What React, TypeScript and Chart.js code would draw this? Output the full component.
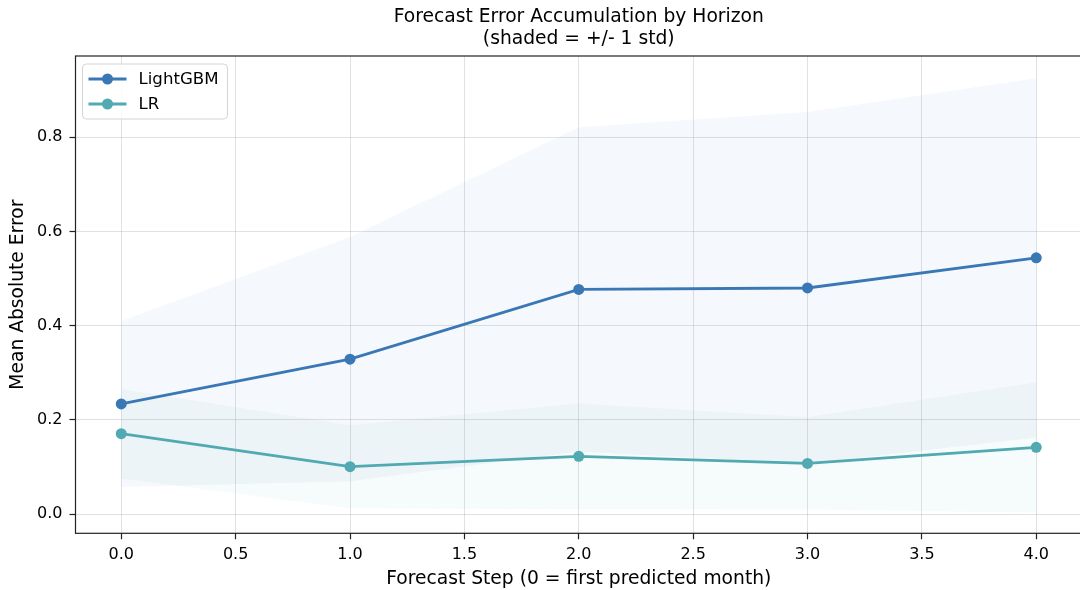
import React, { useEffect, useRef } from 'react';
import { Chart, registerables } from 'chart.js';

Chart.register(...registerables);

// ---- data ----
const steps = [0, 1, 2, 3, 4];
const lgbmMean = [0.234, 0.329, 0.477, 0.48, 0.544];
const lgbmStd = [0.176, 0.259, 0.344, 0.373, 0.381];
const lrMean = [0.171, 0.101, 0.123, 0.108, 0.142];
const lrStd = [0.095, 0.088, 0.112, 0.098, 0.138];
const seriesNames = ['LightGBM', 'LR'];
const xTicks = [0, 0.5, 1, 1.5, 2, 2.5, 3, 3.5, 4];
const yTicks = [0, 0.2, 0.4, 0.6, 0.8];
const titleLines = ['Forecast Error Accumulation by Horizon', '(shaded = +/- 1 std)'];
const xLabel = 'Forecast Step (0 = first predicted month)';
const yLabel = 'Mean Absolute Error';

const LGBM_COLOR = '#3a78b5';
const LR_COLOR = '#51a9b1';
const FONT = "'DejaVu Sans', sans-serif";

const pts = (ys: number[]) => steps.map((x, i) => ({ x, y: ys[i] }));
const plus = (m: number[], s: number[]) => m.map((v, i) => v + s[i]);
const minus = (m: number[], s: number[]) => m.map((v, i) => v - s[i]);

const framePlugin = {
  id: 'frame',
  afterDatasetsDraw(chart: any) {
    const { ctx, chartArea: a } = chart;
    ctx.save();
    ctx.strokeStyle = '#222';
    ctx.lineWidth = 1.2;
    ctx.strokeRect(a.left, a.top, a.right - a.left, a.bottom - a.top);
    ctx.restore();
  },
};

const legendPlugin = {
  id: 'boxLegend',
  afterDraw(chart: any) {
    const { ctx, chartArea: a } = chart;
    const x = a.left + 7;
    const y = a.top + 8;
    const w = 145;
    const h = 55;
    ctx.save();
    ctx.beginPath();
    ctx.roundRect(x, y, w, h, 4);
    ctx.fillStyle = 'rgba(255,255,255,0.85)';
    ctx.fill();
    ctx.strokeStyle = '#d4d4d4';
    ctx.lineWidth = 1;
    ctx.stroke();
    const colors = [LGBM_COLOR, LR_COLOR];
    seriesNames.forEach((name, i) => {
      const cy = y + 15 + i * 25;
      ctx.strokeStyle = colors[i];
      ctx.lineWidth = 2.8;
      ctx.beginPath();
      ctx.moveTo(x + 6, cy);
      ctx.lineTo(x + 44, cy);
      ctx.stroke();
      ctx.fillStyle = colors[i];
      ctx.beginPath();
      ctx.arc(x + 25, cy, 5.5, 0, Math.PI * 2);
      ctx.fill();
      ctx.fillStyle = '#000';
      ctx.font = `16.6px ${FONT}`;
      ctx.textBaseline = 'middle';
      ctx.textAlign = 'left';
      ctx.fillText(name, x + 56, cy + 1);
    });
    ctx.restore();
  },
};

export default function App() {
  const ref = useRef<HTMLCanvasElement>(null);

  useEffect(() => {
    document.body.style.margin = '0';
    const canvas = ref.current!;
    const chart = new Chart(canvas, {
      type: 'line',
      data: {
        datasets: [
          {
            label: 'lgbm_upper',
            data: pts(plus(lgbmMean, lgbmStd)),
            borderWidth: 0,
            pointRadius: 0,
            backgroundColor: 'rgba(58,125,190,0.05)',
            fill: '+1',
            order: 3,
          },
          {
            label: 'lgbm_lower',
            data: pts(minus(lgbmMean, lgbmStd)),
            borderWidth: 0,
            pointRadius: 0,
            fill: false,
            order: 3,
          },
          {
            label: 'lr_upper',
            data: pts(plus(lrMean, lrStd)),
            borderWidth: 0,
            pointRadius: 0,
            backgroundColor: 'rgba(81,169,177,0.05)',
            fill: '+1',
            order: 2,
          },
          {
            label: 'lr_lower',
            data: pts(minus(lrMean, lrStd)),
            borderWidth: 0,
            pointRadius: 0,
            fill: false,
            order: 2,
          },
          {
            label: seriesNames[0],
            data: pts(lgbmMean),
            borderColor: LGBM_COLOR,
            backgroundColor: LGBM_COLOR,
            borderWidth: 2.8,
            pointRadius: 5.5,
            pointBorderWidth: 0,
            pointBackgroundColor: LGBM_COLOR,
            fill: false,
            tension: 0,
            order: 0,
          },
          {
            label: seriesNames[1],
            data: pts(lrMean),
            borderColor: LR_COLOR,
            backgroundColor: LR_COLOR,
            borderWidth: 2.8,
            pointRadius: 5.5,
            pointBorderWidth: 0,
            pointBackgroundColor: LR_COLOR,
            fill: false,
            tension: 0,
            order: 1,
          },
        ],
      },
      options: {
        animation: false,
        responsive: false,
        devicePixelRatio: 1,
        layout: { autoPadding: false, padding: { left: 0, right: 0, top: 0, bottom: 0 } },
        plugins: {
          legend: { display: false },
          tooltip: { enabled: false },
          title: {
            display: true,
            fullSize: false,
            text: titleLines,
            color: '#000',
            font: { family: FONT, size: 18.7, weight: 'normal', lineHeight: '22px' },
            padding: { top: 6.5, bottom: 5.5 },
          },
        },
        scales: {
          x: {
            type: 'linear',
            min: -0.2,
            max: 4.2,
            afterBuildTicks: (s: any) => {
              s.ticks = xTicks.map((v) => ({ value: v }));
            },
            afterFit: (s: any) => {
              s.height = 56.7;
              s.paddingLeft = 0;
              s.paddingRight = 0;
            },
            ticks: {
              color: '#000',
              font: { family: FONT, size: 16 },
              padding: 6,
              maxRotation: 0,
              autoSkip: false,
              callback: (v: any) => Number(v).toFixed(1),
            },
            grid: {
              color: 'rgba(170,170,170,0.35)',
              lineWidth: 1,
              tickColor: '#222',
              tickLength: 6,
              tickWidth: 1.2,
            },
            border: { display: false },
            title: {
              display: true,
              text: xLabel,
              color: '#000',
              font: { family: FONT, size: 18.7 },
              padding: { top: 0, bottom: 0 },
            },
          },
          y: {
            type: 'linear',
            min: -0.0403,
            max: 0.972,
            afterBuildTicks: (s: any) => {
              s.ticks = yTicks.map((v) => ({ value: v }));
            },
            afterFit: (s: any) => {
              s.width = 75.5;
              s.paddingTop = 0;
              s.paddingBottom = 0;
            },
            ticks: {
              color: '#000',
              font: { family: FONT, size: 16 },
              padding: 7,
              autoSkip: false,
              callback: (v: any) => Number(v).toFixed(1),
            },
            grid: {
              color: 'rgba(170,170,170,0.35)',
              lineWidth: 1,
              tickColor: '#222',
              tickLength: 6,
              tickWidth: 1.2,
            },
            border: { display: false },
            title: {
              display: true,
              text: yLabel,
              color: '#000',
              font: { family: FONT, size: 18.7 },
              padding: { top: 6.5, bottom: 0 },
            },
          },
        },
      },
      plugins: [framePlugin, legendPlugin],
    });
    return () => chart.destroy();
  }, []);

  return (
    <div style={{ position: 'absolute', left: 0, top: 0, width: 1080, height: 590, overflow: 'hidden' }}>
      <canvas ref={ref} width={1082} height={590} style={{ display: 'block' }} />
    </div>
  );
}
